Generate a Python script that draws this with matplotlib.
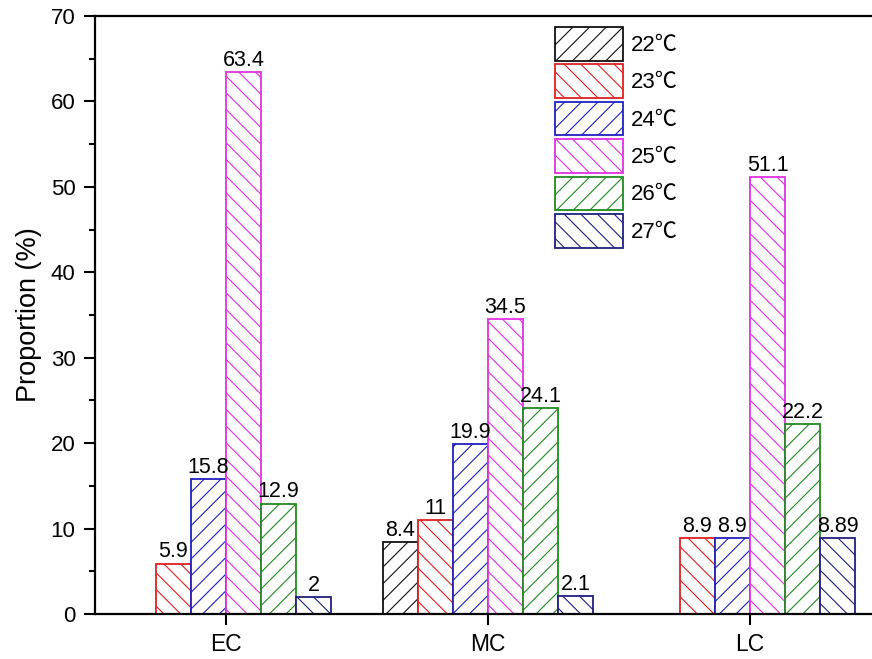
import numpy as np
import matplotlib.pyplot as plt
from matplotlib.ticker import MultipleLocator

plt.rcParams['font.family'] = ['Liberation Sans', 'Noto Sans CJK SC', 'DejaVu Sans']
plt.rcParams['hatch.linewidth'] = 0.8

groups = ['EC', 'MC', 'LC']
temps = ['22℃', '23℃', '24℃', '25℃', '26℃', '27℃']
# one list per temperature, values for EC, MC, LC
t22 = [0, 8.4, 0]
t23 = [5.9, 11, 8.9]
t24 = [15.8, 19.9, 8.9]
t25 = [63.4, 34.5, 51.1]
t26 = [12.9, 24.1, 22.2]
t27 = [2, 2.1, 8.89]
labels = [['', '8.4', ''], ['5.9', '11', '8.9'], ['15.8', '19.9', '8.9'],
          ['63.4', '34.5', '51.1'], ['12.9', '24.1', '22.2'], ['2', '2.1', '8.89']]

series = [t22, t23, t24, t25, t26, t27]
colors = ['#111111', '#e02020', '#2020c0', '#e030e0', '#208a20', '#202080']
hatches = ['//', '\\\\', '//', '\\\\', '//', '\\\\']

fig = plt.figure(figsize=(8.72, 6.59), dpi=100)
ax = fig.add_axes([95/872, 45/659, 786/872, 598/659])

x = np.arange(len(groups))
w = 0.134
for j, vals in enumerate(series):
    vals = np.array(vals, dtype=float)
    keep = vals > 0
    pos = x + (j - 2.5) * w
    bars = ax.bar(pos[keep], vals[keep], width=w, facecolor='white',
                  edgecolor=colors[j], hatch=hatches[j], linewidth=1.3,
                  label=temps[j])
    ax.bar_label(bars, labels=[l for l, k in zip(labels[j], keep) if k],
                 padding=1, fontsize=15.5)

ax.set_xlim(-0.5, 2.5)
ax.set_ylim(0, 70)
ax.set_xticks(x)
ax.set_xticklabels(groups)
ax.yaxis.set_major_locator(MultipleLocator(10))
ax.yaxis.set_minor_locator(MultipleLocator(5))
ax.tick_params(axis='both', width=1.5, length=8, direction='out')
ax.tick_params(axis='y', which='minor', width=1.5, length=4.5)
ax.tick_params(axis='y', labelsize=16, pad=6)
ax.tick_params(axis='x', labelsize=16.5, pad=6)
ax.set_ylabel('Proportion (%)', fontsize=19.5, labelpad=6)

for s in ['left', 'bottom', 'top']:
    ax.spines[s].set_linewidth(1.6)
ax.spines['right'].set_visible(False)

ax.legend(loc='upper left', bbox_to_anchor=((555-95)/786, 1 - 11/598), frameon=False,
          fontsize=16, handlelength=3.05, handleheight=1.95, labelspacing=0.17,
          handletextpad=0.36, borderpad=0, borderaxespad=0)

fig.savefig('out.png', dpi=100)
